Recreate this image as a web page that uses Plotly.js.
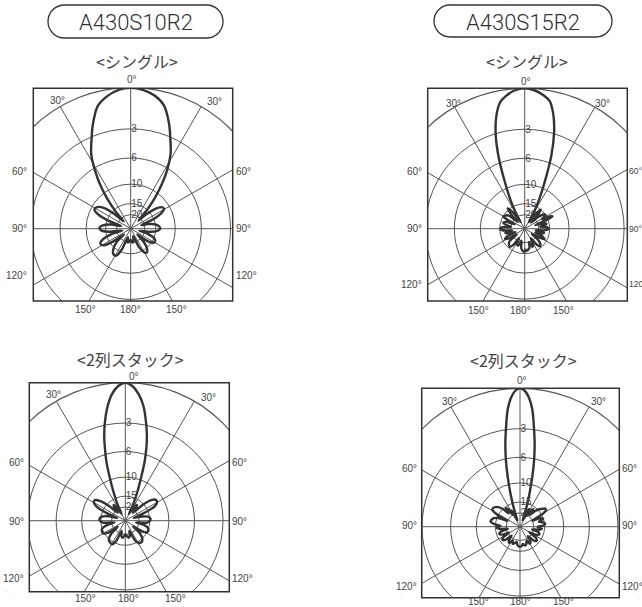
<!DOCTYPE html>
<html><head><meta charset="utf-8">
<script src="https://cdn.plot.ly/plotly-3.0.1.min.js"></script>
<style>
html,body{margin:0;padding:0;background:#fff;overflow:hidden;width:642px;height:607px;}
#chart{position:absolute;left:-20px;top:-20px;width:700px;height:700px;}
</style>
</head><body><div id="chart"></div>
<script>
// ---------- data ----------
const modelNames = ['A430S10R2', 'A430S15R2'];
const configNames = ['<シングル>', '<2列スタック>'];
const dbTicks = [3, 6, 10, 15, 20];
const dbTickText = ['3', '6', '10', '15', '20'];
const angleSideLabels = ['30°', '60°', '90°', '120°'];
const angleBottomLabels = ['150°', '180°', '150°'];
const angleTopLabel = '0°';

// [angle (deg, clockwise from front), attenuation (dB)]
const patternS10Single = [
  [-180,22],[-174,21],[-168,20],[-162,24],[-157,16],[-152,13.3],[-146,13.2],[-140,14.3],[-134,17],[-130,24],
  [-126,16],[-121,12.8],[-116,12.4],[-111,13.5],[-106,17],[-102,24],[-98,16],[-93,13.5],[-88,13.1],[-83,14],
  [-78,17],[-74,23],[-70,15],[-66,11.8],[-62,10.7],[-57,11],[-52,12.5],[-48,16],[-44,23],[-41,15.5],
  [-38,11.3],[-35,8.6],[-32,6.6],[-28,4.5],[-24,3.3],[-20,2.1],[-15,0.9],[-10,0.4],[-5,0.1],[0,0],
  [5,0.1],[10,0.35],[15,0.85],[20,2.0],[24,3.2],[28,4.4],[32,6.3],[35,8.3],[38,11],[41,15],
  [44,22],[47,17],[51,13],[55,11.5],[59,11.2],[63,12.2],[67,15],[71,22],[75,18],[80,15],
  [85,13.9],[90,13.6],[95,14.5],[99,17],[103,24],[107,18],[112,15],[117,14.2],[122,14.5],[127,17],
  [131,24],[135,18],[140,15],[146,13.8],[151,14.5],[156,17],[161,25],[167,21],[172,20],[176,21],[180,22]
];
const patternS15Single = [
  [-180,15.7],[-175,16],[-170,17],[-165,21],[-160,18],[-154,18],[-149,22],[-145,17],[-141,15.6],[-135,16],
  [-130,17],[-126,23],[-122,18],[-118,16],[-114,17],[-110,23],[-106,18.5],[-102,17],[-98,21],[-94,16],
  [-90,15.1],[-86,16],[-82,20],[-78,17],[-74,16],[-70,17],[-66,22],[-63,17],[-60,15.2],[-57,15.5],
  [-53,16],[-49,18],[-46,23],[-43,16.5],[-40,14.5],[-37,16],[-34,19],[-32,25],[-30,20],[-28,15.5],
  [-26,12.5],[-23,8.8],[-20,5.3],[-17,3.0],[-14,1.6],[-11,0.75],[-8,0.4],[-4,0.1],[0,0],
  [4,0.1],[8,0.35],[11,0.65],[14,1.5],[17,2.9],[20,5.1],[23,8.6],[26,12.3],[28,15.5],[30,20],
  [32,25],[34,20],[37,17],[40,15],[43,17],[46,24],[49,18],[53,15.5],[57,15],[61,17],
  [64,14],[66,13.3],[68,15],[71,22],[74,17],[78,16],[82,19],[86,16],[90,15.5],[94,16.5],
  [98,22],[102,17],[106,18],[110,22],[114,17],[118,16],[122,19],[126,24],[130,18],[135,16],
  [139,15.6],[143,17],[147,22],[152,18],[157,17],[162,20],[166,17],[170,16.5],[174,16],[177,16.5],[180,15.7]
];
const patternS10Stack = [
  [-180,20],[-176,19],[-171,18],[-165,19],[-160,22],[-156,16],[-151,14.2],[-145,14.3],[-139,14.8],[-133,17],
  [-129,23],[-125,16.5],[-120,14.7],[-115,14.6],[-109,15],[-104,17],[-99,22],[-95,15.8],[-90,14.7],[-85,14.6],
  [-80,15.2],[-75,18],[-71,24],[-68,17],[-64,12.8],[-60,11.6],[-56,11.5],[-52,12.8],[-48,16],[-44,22],
  [-40,18],[-36,17],[-32,21],[-28,25],[-26,19],[-24,15.5],[-22,12.5],[-20,9.8],[-18,7.2],[-16,5.5],
  [-14,4.0],[-12,2.9],[-9,1.6],[-6,0.7],[-3,0.2],[0,0],
  [3,0.2],[6,0.7],[9,1.5],[12,2.8],[14,3.8],[16,5.1],[18,6.8],[20,9.4],[22,12],[24,15],
  [26,18.5],[28,25],[32,20],[36,17],[40,18],[44,22],[48,15],[52,12.2],[56,11.4],[60,11.5],
  [64,12.6],[68,17],[72,24],[76,18],[80,15.5],[85,14.8],[90,14.9],[95,16],[99,22],[103,17],
  [108,15.2],[113,14.8],[118,15],[123,17],[127,23],[131,17],[137,14.8],[143,14.2],[149,14.5],[154,16],
  [158,22],[163,19],[168,18],[174,19],[180,20]
];
const patternS15Stack = [
  [-180,16.8],[-176,17],[-172,17.5],[-167,19],[-162,18],[-157,17.5],[-152,19],[-147,17],[-142,17.5],[-137,21],
  [-132,17],[-127,16],[-122,17],[-118,21],[-114,17],[-109,16],[-104,17],[-100,21],[-96,16.5],[-92,15.5],
  [-88,17],[-84,14.5],[-80,13.3],[-76,13.5],[-72,14],[-68,15.5],[-65,20],[-62,14.5],[-59,12.7],[-56,12.5],
  [-52,12.8],[-48,13.5],[-44,15],[-40,18],[-37,15.5],[-34,16.5],[-31,20],[-28,17.5],[-25,20],[-22,26],
  [-20,21],[-18,16],[-16,12],[-14,8.8],[-12,6.2],[-10,4.3],[-8,2.8],[-6,1.4],[-4,0.6],[-2,0.15],[0,0],
  [2,0.15],[4,0.6],[6,1.4],[8,2.8],[10,4.3],[12,6.2],[14,8.8],[16,12],[18,16],[20,21],
  [22,26],[25,19],[28,17],[31,21],[34,17],[37,16],[40,19],[44,16],[48,14.5],[52,13.5],
  [55,12.9],[58,13.2],[61,15],[64,20],[67,16],[71,15],[75,17],[79,15.5],[83,14.7],[87,15.5],
  [91,18],[95,16],[99,17],[103,21],[107,17],[112,16.5],[117,18],[121,22],[125,17],[130,16],
  [135,17],[140,21],[145,17.5],[150,17],[155,19],[160,17.5],[165,17],[170,18],[175,17],[180,16.8]
];

// ---------- layout geometry (page pixels) ----------
const PAD = 20, W = 700, H = 700;
const fx = p => (p + PAD) / W;
const fy = p => 1 - (p + PAD) / H;

const panels = [
  {pattern: patternS10Single, cx:130.7, cy:228.7, R:141.0, box:[33.3,88.3,232.7,301.0],
   title: configNames[0], tx:137, ty:61, rsize:10,
   lab:{top:[132,80], l30:[57,100], r30:[214,102], lx:28, rx:235, y60:171, y90:229, y120:275, by:309, bx:[85,130,176]}},
  {pattern: patternS15Single, cx:524.7, cy:228.7, R:140.4, box:[427.7,88.3,627.3,301.0],
   title: configNames[0], tx:527, ty:61, rsize:8.5,
   lab:{top:[526,81], l30:[453,103], r30:[602,103], lx:423, rx:628, y60:171, y90:229, y120:284, by:310, bx:[478,520,563]}},
  {pattern: patternS10Stack, cx:125.3, cy:520.7, R:138.0, box:[29.3,382.7,229.3,591.7],
   title: configNames[1], tx:130, ty:359, rsize:10,
   lab:{top:[134,376], l30:[53,394], r30:[208,397], lx:25, rx:231, y60:462, y90:521, y120:578, by:598, bx:[85,128,175]}},
  {pattern: patternS15Stack, cx:520.0, cy:526.7, R:138.4, box:[421.7,388.3,619.3,597.7],
   title: configNames[1], tx:523, ty:360, rsize:10,
   lab:{top:[522,380], l30:[450,401], r30:[598,401], lx:418, rx:621, y60:468, y90:525, y120:586, by:601, bx:[478,520,563]}}
];

const gridColor = '#555';
const textColor = '#444';
const lineColor = '#333';
const rTicks = dbTicks.map(d => Math.pow(10, -d / 20));

const traces = [];
const layout = {
  width: W, height: H, autosize: false,
  margin: {l:0, r:0, t:0, b:0},
  paper_bgcolor: '#fff', showlegend: false,
  font: {family: 'Liberation Sans, Arial, sans-serif', color: textColor},
  shapes: [], annotations: []
};

panels.forEach((p, i) => {
  const key = i === 0 ? 'polar' : 'polar' + (i + 1);
  const X = p.cx + PAD, Y = p.cy + PAD;
  layout[key] = {
    domain: {x: [(X - p.R) / W, (X + p.R) / W], y: [1 - (Y + p.R) / H, 1 - (Y - p.R) / H]},
    bgcolor: 'rgba(0,0,0,0)',
    angularaxis: {rotation: 90, direction: 'clockwise', dtick: 30, showticklabels: false, ticks: '',
      showgrid: true, gridcolor: gridColor, gridwidth: 1, showline: true, linecolor: gridColor, linewidth: 1.2},
    radialaxis: {range: [0, 1], tickvals: rTicks, ticktext: dbTickText, angle: 90, tickangle: 90,
      showline: false, ticks: '', showgrid: true, gridcolor: gridColor, gridwidth: 1,
      tickfont: {size: 10, color: textColor, family: 'Liberation Sans, Arial, sans-serif'}}
  };
  traces.push({
    type: 'scatterpolar', subplot: key, mode: 'lines',
    theta: p.pattern.map(d => d[0]),
    r: p.pattern.map(d => Math.pow(10, -d[1] / 20)),
    line: {color: lineColor, width: 2.4, shape: 'spline', smoothing: 0.9},
    hoverinfo: 'skip'
  });
});

// white masks outside the four frames
const masks = [
  [-20,-20,680,88.3], [-20,301,680,382.7], [330,382.7,680,388.3], [-20,597.7,680,680], [-20,591.7,330,597.7],
  [-20,88.3,33.3,301], [232.7,88.3,427.7,301], [627.3,88.3,680,301],
  [-20,382.7,29.3,591.7], [229.3,382.7,421.7,597.7], [619.3,388.3,680,597.7]
];
masks.forEach(m => layout.shapes.push({type:'rect', xref:'paper', yref:'paper', layer:'above',
  x0: fx(m[0]), y0: fy(m[1]), x1: fx(m[2]), y1: fy(m[3]), fillcolor:'#fff', line:{width:0}}));

// frames
panels.forEach(p => layout.shapes.push({type:'rect', xref:'paper', yref:'paper', layer:'above',
  x0: fx(p.box[0]), y0: fy(p.box[1]), x1: fx(p.box[2]), y1: fy(p.box[3]),
  line:{color:'#333', width:1.5}}));

// model name pills
function pill(x0, y0, x1, y1) {
  const r = (y1 - y0) / 2, k = 0.5523 * r;
  const P = (x, y) => fx(x) + ',' + fy(y);
  return 'M' + P(x0 + r, y0) + ' L' + P(x1 - r, y0) +
    ' C' + P(x1 - r + k, y0) + ' ' + P(x1, y0 + r - k) + ' ' + P(x1, y0 + r) +
    ' C' + P(x1, y0 + r + k) + ' ' + P(x1 - r + k, y1) + ' ' + P(x1 - r, y1) +
    ' L' + P(x0 + r, y1) +
    ' C' + P(x0 + r - k, y1) + ' ' + P(x0, y0 + r + k) + ' ' + P(x0, y0 + r) +
    ' C' + P(x0, y0 + r - k) + ' ' + P(x0 + r - k, y0) + ' ' + P(x0 + r, y0) + ' Z';
}
const pills = [[48, 5, 223, 38, 136, 22], [434, 5, 612, 37, 523, 22]];
pills.forEach((b, i) => {
  layout.shapes.push({type:'path', xref:'paper', yref:'paper', layer:'above', path: pill(b[0], b[1], b[2], b[3]),
    line:{color:'#333', width:1.3}});
  layout.annotations.push({xref:'paper', yref:'paper', x: fx(b[4]), y: fy(b[5]), text: modelNames[i],
    showarrow:false, xanchor:'center', yanchor:'middle',
    font:{size:22, color:'#333', family:'Roboto, Liberation Sans, sans-serif', weight: 300}});
});

function ann(x, y, text, xanchor, size) {
  layout.annotations.push({xref:'paper', yref:'paper', x: fx(x), y: fy(y), text: text, showarrow:false,
    xanchor: xanchor || 'center', yanchor:'middle', borderpad: 0,
    font:{size: size || 10, color: textColor, family:'Liberation Sans, Arial, sans-serif'}});
}

panels.forEach(p => {
  layout.annotations.push({xref:'paper', yref:'paper', x: fx(p.tx), y: fy(p.ty), text: p.title, showarrow:false,
    xanchor:'center', yanchor:'middle', font:{size:16, color:textColor, family:'Noto Sans CJK JP, sans-serif'}});
  const L = p.lab;
  ann(L.top[0], L.top[1], angleTopLabel);
  ann(L.l30[0], L.l30[1], angleSideLabels[0]);
  ann(L.r30[0], L.r30[1], angleSideLabels[0]);
  [L.y60, L.y90, L.y120].forEach((yy, k) => {
    ann(L.lx, yy, angleSideLabels[k + 1], 'right');
    ann(L.rx, yy, angleSideLabels[k + 1], 'left', p.rsize);
  });
  L.bx.forEach((xx, k) => ann(xx, L.by, angleBottomLabels[k]));
});

Plotly.newPlot('chart', traces, layout, {staticPlot: true, displayModeBar: false});
</script>
</body></html>
